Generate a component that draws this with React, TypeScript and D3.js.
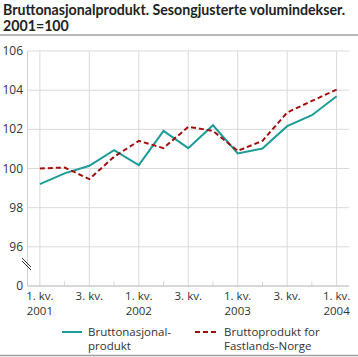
import React from "react";
import * as d3 from "d3";

const quarters = ["2001K1","2001K2","2001K3","2001K4","2002K1","2002K2","2002K3","2002K4","2003K1","2003K2","2003K3","2003K4","2004K1"];
const bnp = [99.2, 99.75, 100.14, 100.94, 100.17, 101.92, 101.04, 102.21, 100.77, 101.02, 102.16, 102.72, 103.69];
const fastland = [100.0, 100.05, 99.46, 100.6, 101.41, 101.04, 102.13, 101.92, 100.9, 101.41, 102.86, 103.45, 104.03];
const yTicks = [96, 98, 100, 102, 104, 106];
const xLabels1 = ["1. kv.", "", "3. kv.", "", "1. kv.", "", "3. kv.", "", "1. kv.", "", "3. kv.", "", "1. kv."];
const xLabels2 = ["2001", "", "", "", "2002", "", "", "", "2003", "", "", "", "2004"];
const seriesNames = [["Bruttonasjonal-", "produkt"], ["Bruttoprodukt for", "Fastlands-Norge"]];

const W = 358, H = 357;
const L = 27.5, R = 349, T = 51, B = 286;
const teal = "#1d9c97";
const red = "#a11010";
const font = "'Open Sans', sans-serif";
const fs = 11.5;

export default function App() {
  const x = d3.scalePoint<string>().domain(quarters).range([L, R]).padding(0.5);
  const y = d3.scaleLinear().domain([94, 106]).range([B, T]);
  const line = d3.line<number>().x((_, i) => x(quarters[i])!).y(d => y(d));
  return (
    <svg width={W} height={H} style={{ position: "absolute", left: 0, top: 0 }} fontFamily={font}>
      <text x={3} y={15} fontSize={14.2} fontWeight="bold" fill="#222" fontFamily="Lato, sans-serif">Bruttonasjonalprodukt. Sesongjusterte volumindekser.</text>
      <text x={3} y={31} fontSize={14.2} fontWeight="bold" fill="#222" fontFamily="Lato, sans-serif">2001=100</text>
      <line x1={0} x2={W} y1={35} y2={35} stroke="#a0a0a0" strokeWidth={1.5} />
      {yTicks.map(t => (
        <g key={t}>
          <line x1={L} x2={R} y1={y(t)} y2={y(t)} stroke="#d9d9d9" strokeWidth={1} />
          <text x={23} y={y(t) + 4} textAnchor="end" fontSize={12} fill="#333">{t}</text>
        </g>
      ))}
      <text x={23} y={B + 4} textAnchor="end" fontSize={12} fill="#333">0</text>
      {quarters.map((q, i) => i % 2 === 0 ? (
        <line key={q} x1={x(q)} x2={x(q)} y1={T} y2={B} stroke="#d9d9d9" strokeWidth={1} />
      ) : (
        <line key={q} x1={x(q)} x2={x(q)} y1={B - 5} y2={B} stroke="#d9d9d9" strokeWidth={1} />
      ))}
      <line x1={L} x2={L} y1={T} y2={B} stroke="#d0d0d0" strokeWidth={1} />
      <line x1={L} x2={R} y1={B} y2={B} stroke="#b0b0b0" strokeWidth={1} />
      <line x1={22} x2={31} y1={258} y2={267} stroke="#333" strokeWidth={1} />
      <line x1={22} x2={31} y1={261} y2={270} stroke="#333" strokeWidth={1} />
      {quarters.map((q, i) => (
        <g key={"l" + q}>
          {xLabels1[i] && <text x={x(q)} y={299.5} textAnchor="middle" fontSize={fs} fill="#333">{xLabels1[i]}</text>}
          {xLabels2[i] && <text x={x(q)} y={314.5} textAnchor="middle" fontSize={fs} fill="#333">{xLabels2[i]}</text>}
        </g>
      ))}
      <path d={line(bnp)!} fill="none" stroke={teal} strokeWidth={2} />
      <path d={line(fastland)!} fill="none" stroke={red} strokeWidth={2} strokeDasharray="5,3" />
      <line x1={62} x2={82} y1={332} y2={332} stroke={teal} strokeWidth={2} />
      <text x={88} y={336} fontSize={fs} fill="#333">{seriesNames[0][0]}</text>
      <text x={88} y={350} fontSize={fs} fill="#333">{seriesNames[0][1]}</text>
      <line x1={195} x2={216} y1={332} y2={332} stroke={red} strokeWidth={2} strokeDasharray="5,3" />
      <text x={224} y={336} fontSize={fs} fill="#333">{seriesNames[1][0]}</text>
      <text x={224} y={350} fontSize={fs} fill="#333">{seriesNames[1][1]}</text>
      <line x1={0} x2={W} y1={355.5} y2={355.5} stroke="#a0a0a0" strokeWidth={1.5} />
    </svg>
  );
}
